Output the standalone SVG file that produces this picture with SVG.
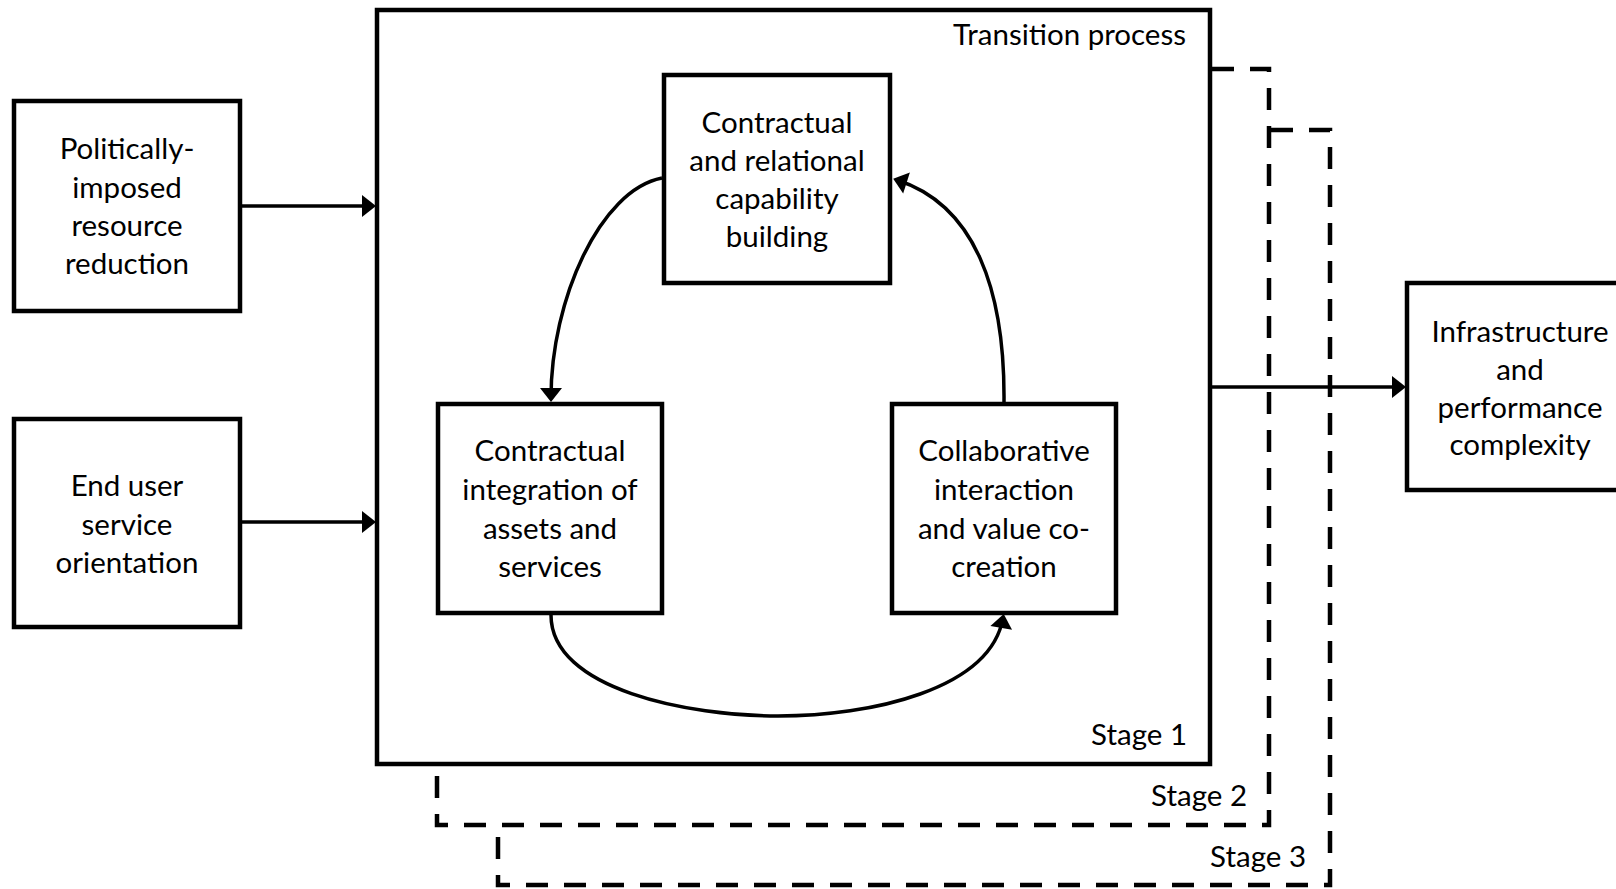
<svg xmlns="http://www.w3.org/2000/svg" width="1616" height="889" viewBox="0 0 1616 889">
<style>
.box{fill:#fff;stroke:#000;stroke-width:4.5}
.t{font-family:Lato,"Open Sans",sans-serif;font-size:29.5px;fill:#000;text-anchor:middle}
.tr{font-family:Lato,"Open Sans",sans-serif;font-size:29.5px;fill:#000;text-anchor:end}
.c{fill:none;stroke:#000;stroke-width:3.5}
.d{fill:none;stroke:#000;stroke-width:4.5;stroke-dasharray:22 16}
</style>
<defs>
<marker id="ah" markerUnits="userSpaceOnUse" markerWidth="16" markerHeight="24" viewBox="0 0 16 24" refX="11" refY="12" orient="auto">
<path d="M1,1 L15,12 L1,23 z" fill="#000"/>
</marker>
</defs>
<rect width="1616" height="889" fill="#fff"/>
<g id="stages">
<path class="d" d="M1271,130 H1330 V885 H498 V827"/>
<path class="d" d="M1212,69 H1269 V825 H437 V767"/>
</g>
<g id="transition">
<rect class="box" x="377" y="10" width="833" height="754"/>
<text class="tr" x="1186" y="45">Transition process</text>
<text class="tr" x="1187" y="745">Stage 1</text>
</g>
<text class="tr" x="1247" y="806">Stage 2</text>
<text class="tr" x="1306" y="867">Stage 3</text>
<g id="politically">
<rect class="box" x="14" y="101" width="226" height="210"/>
<text class="t" x="127" y="159">Politically-</text>
<text class="t" x="127" y="198">imposed</text>
<text class="t" x="127" y="236">resource</text>
<text class="t" x="127" y="274">reduction</text>
</g>
<g id="enduser">
<rect class="box" x="14" y="419" width="226" height="208"/>
<text class="t" x="127" y="496">End user</text>
<text class="t" x="127" y="535">service</text>
<text class="t" x="127" y="573">orientation</text>
</g>
<g id="capability">
<rect class="box" x="664" y="75" width="226" height="208"/>
<text class="t" x="777" y="133">Contractual</text>
<text class="t" x="777" y="171">and relational</text>
<text class="t" x="777" y="209">capability</text>
<text class="t" x="777" y="247">building</text>
</g>
<g id="integration">
<rect class="box" x="438" y="404" width="224" height="209"/>
<text class="t" x="550" y="461">Contractual</text>
<text class="t" x="550" y="500">integration of</text>
<text class="t" x="550" y="539">assets and</text>
<text class="t" x="550" y="577">services</text>
</g>
<g id="collaborative">
<rect class="box" x="892" y="404" width="224" height="209"/>
<text class="t" x="1004" y="461">Collaborative</text>
<text class="t" x="1004" y="500">interaction</text>
<text class="t" x="1004" y="539">and value co-</text>
<text class="t" x="1004" y="577">creation</text>
</g>
<g id="outcome">
<rect class="box" x="1407" y="283" width="228" height="207"/>
<text class="t" x="1520" y="342">Infrastructure</text>
<text class="t" x="1520" y="380">and</text>
<text class="t" x="1520" y="418">performance</text>
<text class="t" x="1520" y="455">complexity</text>
</g>
<g id="connectors">
<line class="c" x1="242" y1="206" x2="372" y2="206" marker-end="url(#ah)"/>
<line class="c" x1="242" y1="522" x2="372" y2="522" marker-end="url(#ah)"/>
<line class="c" x1="1212" y1="387" x2="1402" y2="387" marker-end="url(#ah)"/>
<path class="c" d="M662,178 C600,190 551,300 551,398" marker-end="url(#ah)"/>
<path class="c" d="M1004,402 C1005,290 975,205 897,180" marker-end="url(#ah)"/>
<path class="c" d="M551,615 C551,690 690,716 778,716 C870,716 990,690 1003,618" marker-end="url(#ah)"/>
</g>
</svg>
